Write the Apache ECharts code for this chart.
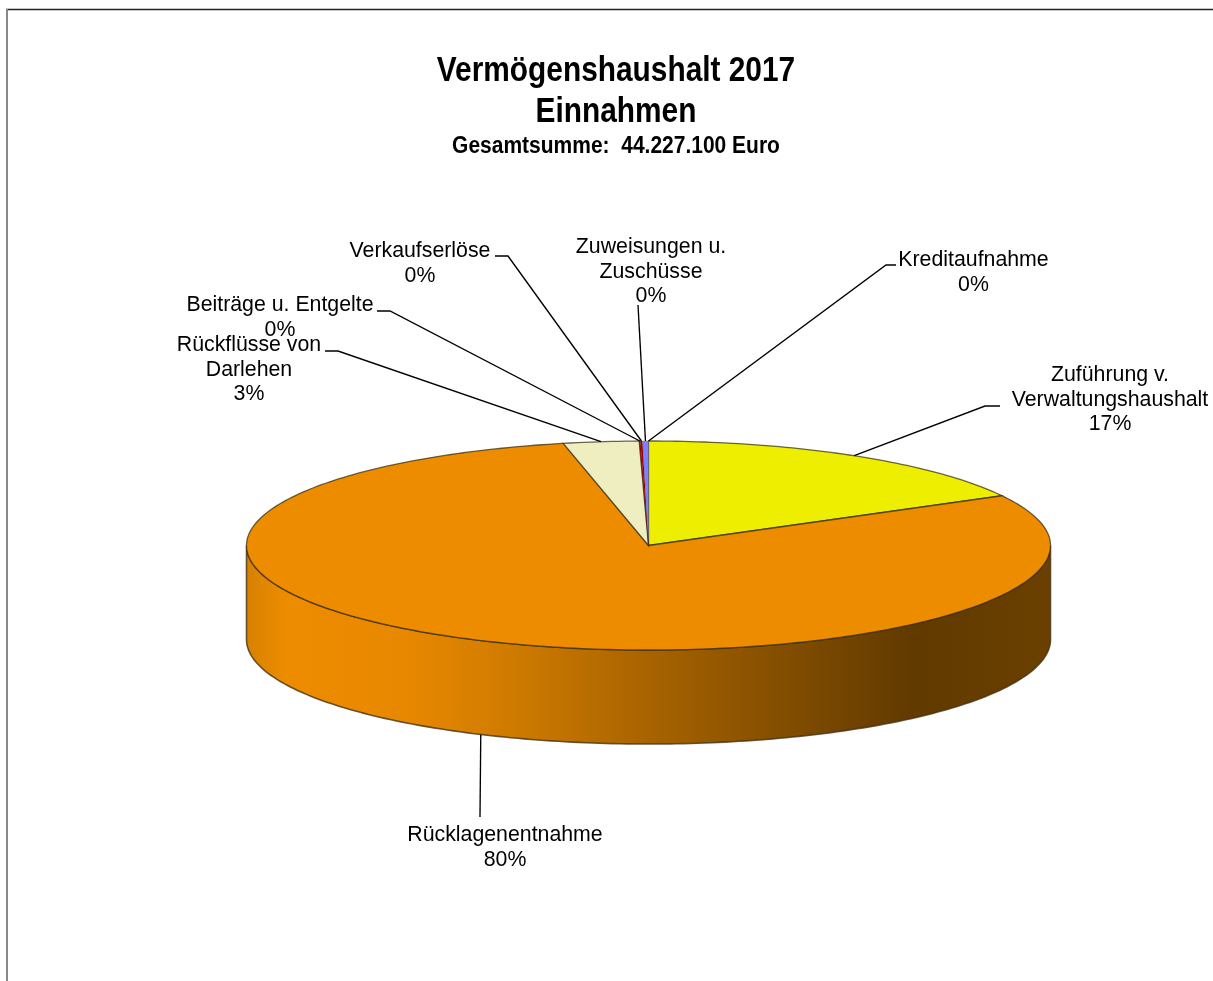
<!DOCTYPE html>
<html><head><meta charset="utf-8">
<style>html,body{margin:0;padding:0;background:#fff}#c{width:1213px;height:981px}</style>
<script src="https://cdn.jsdelivr.net/npm/echarts@6/dist/echarts.min.js"></script>
</head><body><div id="c"></div>
<script>
var titleLines = ['Vermögenshaushalt 2017','Einnahmen','Gesamtsumme:  44.227.100 Euro'];
var names = ['Zuführung v.\nVerwaltungshaushalt','Rücklagenentnahme','Rückflüsse von\nDarlehen','Beiträge u. Entgelte','Verkaufserlöse','Zuweisungen u.\nZuschüsse','Kreditaufnahme'];
var shares = [17.1, 79.5, 3.03, 0.05, 0.08, 0.24, 0.0];
var colors = ['#EEEE00','#EE8C00','#EEEEC0','#A80000','#A80000','#8080FF','#60A0E0'];
var percentLabels = ['17%','80%','3%','0%','0%','0%','0%'];

// layout (pixels): pie ellipse and label anchors
var CX=648.5, CY=545.5, RX=402, RY=104.5, DEPTH=94;
var elbows = [[[985,406],[1000,406]],[[480,817]],[[338,351],[325,351]],[[390,311],[377,311]],[[508,256],[495,256]],[[638,305]],[[886,265],[896,265]]];
var anchors = [[1110,375],[505,835],[249,345],[280,305],[420,251],[651,247],[973.5,260]];

var total = shares.reduce(function(a,b){return a+b;},0);
function startAngle(i){var s=0;for(var k=0;k<i;k++)s+=shares[k];return s/total*360;}
function pt(deg,dy){var r=deg*Math.PI/180;return [CX+RX*Math.sin(r),CY-RY*Math.cos(r)+(dy||0)];}

function wallItem(params,api){
  var i=params.dataIndex, a=startAngle(i), b=a+api.value(1)/total*360;
  var lo=Math.max(a,90), hi=Math.min(b,270);
  if(hi<=lo) return {type:'group',children:[]};
  var pts=[],d;
  for(d=lo;d<hi;d+=1)pts.push(pt(d,0));
  pts.push(pt(hi,0));
  for(d=hi;d>lo;d-=1)pts.push(pt(d,DEPTH));
  pts.push(pt(lo,DEPTH));
  return {type:'polygon',shape:{points:pts},style:{
    fill:new echarts.graphic.LinearGradient(0,0,1,0,[
      {offset:0,color:'#D68100'},{offset:0.05,color:'#EE8C00'},{offset:0.2,color:'#E88800'},
      {offset:0.33,color:'#CF7B00'},{offset:0.5,color:'#A86300'},{offset:0.68,color:'#804C00'},
      {offset:0.83,color:'#613A00'},{offset:1,color:'#6B4000'}]),
    stroke:'rgba(70,50,20,0.8)',lineWidth:1.6}};
}
function topItem(params,api){
  var i=params.dataIndex, a=startAngle(i), b=a+api.value(1)/total*360;
  if(b-a<=0) return {type:'group',children:[]};
  var pts=[[CX,CY]];
  for(var d=a;d<b;d+=1)pts.push(pt(d,0));
  pts.push(pt(b,0));
  var thin=(b-a)<1;
  return {type:'polygon',shape:{points:pts},style:{fill:colors[i],stroke:thin?'rgba(40,30,30,0.35)':'rgba(50,45,20,0.72)',lineWidth:thin?0.5:1.3}};
}
function labelItem(params,api){
  var i=params.dataIndex, a=startAngle(i), m=a+api.value(1)/total*180;
  var front=(m>90&&m<270);
  var line=[pt(m,front?DEPTH:0)].concat(elbows[i]);
  return {type:'group',children:[
    {type:'polyline',shape:{points:line},style:{fill:'none',stroke:'#000',lineWidth:1.35}},
    {type:'text',style:{text:names[i]+'\n'+percentLabels[i],x:anchors[i][0],y:anchors[i][1]-12.2,
      align:'center',verticalAlign:'top',fill:'#000',fontSize:21.3,lineHeight:24.6,fontFamily:'"Liberation Sans",Arial,sans-serif'}}
  ]};
}
function titleText(i,y,size,sx){
  return {type:'text',z:5,x:616,y:y,scaleX:sx,style:{text:titleLines[i],align:'center',verticalAlign:'middle',fill:'#000',
    fontSize:size,fontWeight:'bold',fontFamily:'"Liberation Sans",Arial,sans-serif'}};
}
var rows = shares.map(function(v,i){return [i,v];});
var chart = echarts.init(document.getElementById('c'),null,{renderer:'canvas'});
chart.setOption({
  animation:false,
  backgroundColor:'#fff',
  graphic:[
    {type:'line',z:-1,shape:{x1:6,y1:9.5,x2:1213,y2:9.5},style:{stroke:'#222',lineWidth:1.4}},
    {type:'line',z:-1,shape:{x1:7,y1:9,x2:7,y2:981},style:{stroke:'#888',lineWidth:2}},
    titleText(0,71.5,34.5,0.865),
    titleText(1,112,34.5,0.865),
    titleText(2,147,23.5,0.893)
  ],
  series:[
    {type:'custom',coordinateSystem:'none',renderItem:wallItem,data:rows,silent:true,z:1},
    {type:'custom',coordinateSystem:'none',renderItem:topItem,data:rows,silent:true,z:2},
    {type:'custom',coordinateSystem:'none',renderItem:labelItem,data:rows,silent:true,z:3}
  ]
});
</script></body></html>
